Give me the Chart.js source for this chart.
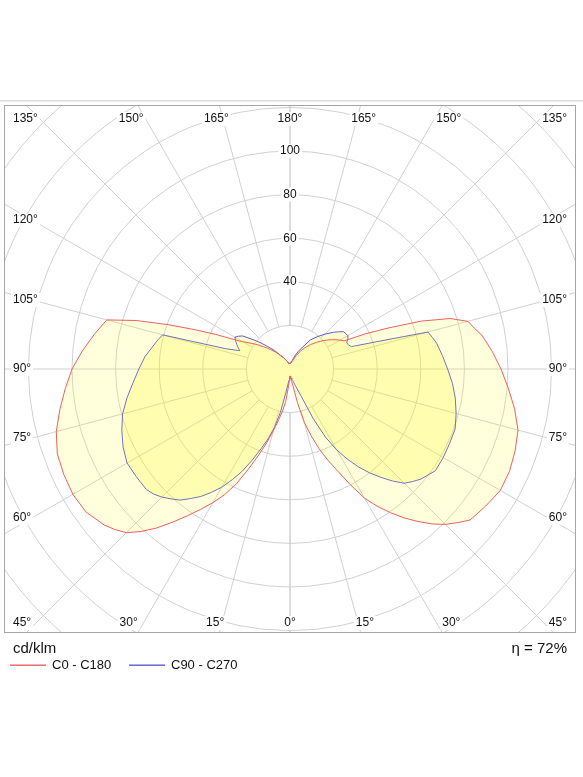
<!DOCTYPE html>
<html>
<head>
<meta charset="utf-8">
<script src="https://cdn.jsdelivr.net/npm/chart.js@4.4.0/dist/chart.umd.min.js"></script>
<style>
  html, body { margin: 0; padding: 0; background: #fff; }
  canvas { display: block; }
</style>
</head>
<body>
<canvas id="polar" width="583" height="777"></canvas>
<script>
// gamma angles (0 = straight down, 180 = straight up), degrees
var GAMMA = [0, 2.5, 5, 7.5, 10, 12.5, 15, 17.5, 20, 22.5, 25, 27.5, 30, 32.5, 35, 37.5, 40, 42.5, 45, 47.5, 50,
             55, 60, 65, 70, 75, 80, 85, 90, 95, 100,
             102.5, 105, 107.5, 110, 112.5, 115, 117.5, 120, 122.5, 125, 127.5, 130, 132.5, 135,
             140, 145, 150, 155, 160, 165, 170, 175, 180];

// cd/klm, C0 (right) and C180 (left) halves of the red curve
var C0   = [3.2, 3.7, 4.4, 5.8, 7.8, 15.8, 25.3, 32, 38.8, 45.2, 51.5, 59.7, 68.5, 74.7, 80.5, 86.1, 91.3, 96.4, 100.8, 104.3, 107.8,
            109.6, 111.4, 111.1, 109.9, 108.3, 104.6, 100.5, 96.8, 93.1, 89.4,
            86.6, 84.5, 77, 64.3, 49.6, 38.2, 28, 26.5, 25, 23.4, 21.9, 20.3, 18.8, 17.4,
            14.6, 11.9, 9.4, 6.9, 4.4, 3.5, 3, 2.7, 2.5];
var C180 = [3.2, 5, 8.2, 15, 19.5, 23.8, 29, 35.5, 42, 49.5, 58, 65, 70.8, 76.4, 82.2, 88.6, 95.2, 101.1, 106.2, 109, 111.3,
            114.3, 115, 114.5, 113.6, 111, 107.2, 103.5, 100, 95.6, 91.2,
            89, 87, 74, 59.5, 47, 37.5, 29.5, 25, 22.3, 20, 18, 15.8, 14.2, 12.6,
            10, 7.6, 6, 4.7, 3.8, 3, 2.7, 2.6, 2.5];

// C90 (right) and C270 (left) halves of the blue curve
var C90  = [3.2, 3.4, 3.8, 4.2, 4.8, 5.4, 6.4, 7.8, 9.8, 13.8, 24.9, 35.2, 42.9, 49.1, 54.9, 60.1, 64.9, 69.7, 74.1, 76.4, 78.5,
            81.4, 81.2, 80.8, 80.6, 78.9, 77, 74.8, 72.3, 70.2, 68.3,
            66.9, 65.5, 41.5, 30, 29, 28.7, 30, 30.6, 30.3, 29.9, 28, 26.2, 24.3, 22.6,
            19.3, 16.2, 11.7, 8.8, 6.3, 4.2, 3, 2.6, 2.5];
var C270 = [3.2, 3.8, 5.2, 7, 11.2, 20.5, 28, 33.7, 39, 45.2, 51.6, 57.2, 62.6, 67.1, 71.4, 74.9, 78.5, 80.8, 83.1, 84.9, 86,
            86.1, 86.3, 84.5, 82.1, 79.5, 75.9, 72.3, 69.3, 66.7, 63.4,
            62, 60.5, 31, 24.5, 25.8, 27, 28.2, 29.2, 28, 26.4, 22.7, 20, 17.2, 14.7,
            11.1, 7.7, 6, 4.7, 3.8, 3, 2.7, 2.6, 2.5];

var RINGS       = [20, 40, 60, 80, 100, 120, 140, 160, 180, 200];
var RING_LABELS = [40, 60, 80, 100];
var ANGLE_TICKS = [0, 15, 30, 45, 60, 75, 90, 105, 120, 135, 150, 165, 180];
var UNIT_LABEL  = 'cd/klm';
var EFF_LABEL   = '\u03b7 = 72%';
var SERIES_NAMES = ['C0 - C180', 'C90 - C270'];

var FONT = '"Liberation Sans", Arial, sans-serif';
var RED  = '#ec5f5f';
var BLUE = '#5b5bd8';

// closed loop: right half 0 -> 180, then left half 180 -> 0
function loop(right, left) {
  var pts = [];
  GAMMA.forEach(function(g, i) {
    var t = g * Math.PI / 180;
    pts.push({ x: right[i] * Math.sin(t), y: -right[i] * Math.cos(t) });
  });
  for (var i = GAMMA.length - 1; i >= 0; i--) {
    var t = GAMMA[i] * Math.PI / 180;
    pts.push({ x: -left[i] * Math.sin(t), y: -left[i] * Math.cos(t) });
  }
  return pts;
}

function boxText(ctx, text, x, y, align) {
  var w = ctx.measureText(text).width;
  var lx = align === 'left' ? x : (align === 'right' ? x - w : x - w / 2);
  ctx.fillStyle = '#fff';
  ctx.fillRect(lx - 2, y - 7, w + 4, 14);
  ctx.fillStyle = '#111';
  ctx.textAlign = align;
  ctx.fillText(text, x, y);
}

var polarGrid = {
  id: 'polarGrid',
  beforeDatasetsDraw: function(chart) {
    var ctx = chart.ctx, a = chart.chartArea, sx = chart.scales.x, sy = chart.scales.y;
    var cx = sx.getPixelForValue(0), cy = sy.getPixelForValue(0);
    var k = sx.getPixelForValue(1) - cx;
    ctx.save();
    ctx.beginPath();
    ctx.rect(a.left, a.top, a.right - a.left, a.bottom - a.top);
    ctx.clip();
    ctx.strokeStyle = '#d0d0d0';
    ctx.lineWidth = 1;
    RINGS.forEach(function(r) {
      ctx.beginPath();
      ctx.arc(cx, cy, r * k, 0, Math.PI * 2);
      ctx.stroke();
    });
    ANGLE_TICKS.forEach(function(g) {
      [-1, 1].forEach(function(side) {
        var t = g * Math.PI / 180;
        var r0 = RINGS[0] * k, r1 = RINGS[RINGS.length - 1] * k;
        ctx.beginPath();
        ctx.moveTo(cx + side * Math.sin(t) * r0, cy + Math.cos(t) * r0);
        ctx.lineTo(cx + side * Math.sin(t) * r1, cy + Math.cos(t) * r1);
        ctx.stroke();
      });
    });
    ctx.restore();
  },
  afterDatasetsDraw: function(chart) {
    var ctx = chart.ctx, a = chart.chartArea, sx = chart.scales.x, sy = chart.scales.y;
    var cx = sx.getPixelForValue(0), cy = sy.getPixelForValue(0);
    var k = sx.getPixelForValue(1) - cx;
    var halfW = (a.right - a.left) / 2;
    ctx.save();
    ctx.font = '12px ' + FONT;
    ctx.textBaseline = 'middle';

    // radial values along the 180 line
    RING_LABELS.forEach(function(v) {
      boxText(ctx, String(v), cx, cy - v * k, 'center');
    });

    // angle labels around the frame
    ANGLE_TICKS.forEach(function(g) {
      [-1, 1].forEach(function(side) {
        if ((g === 0 || g === 180) && side < 0) return;
        var t = g * Math.PI / 180;
        var ux = side * Math.sin(t), uy = Math.cos(t);
        var x, y, align = 'center';
        var edgeX = side < 0 ? a.left + 9 : a.right - 9;
        var edgeAlign = side < 0 ? 'left' : 'right';
        if (g <= 45 || g >= 135) {
          y = g <= 45 ? a.bottom - 10 : a.top + 14;
          if (g === 45 || g === 135) { x = edgeX; align = edgeAlign; }
          else x = cx + ux / Math.abs(uy) * Math.abs(y - cy) * 1.1;
        } else {
          x = edgeX; align = edgeAlign;
          y = cy + uy / Math.abs(ux) * (halfW - 28);
        }
        boxText(ctx, g + '\u00b0', x, y, align);
      });
    });

    // frame
    ctx.strokeStyle = '#a5a5a5';
    ctx.lineWidth = 1;
    ctx.strokeRect(a.left + 0.5, a.top + 0.5, a.right - a.left - 1, a.bottom - a.top - 1);
    ctx.restore();
  },
  afterDraw: function(chart) {
    var ctx = chart.ctx, a = chart.chartArea;
    ctx.save();
    // thin rule above the diagram
    ctx.fillStyle = '#dcdcdc';
    ctx.fillRect(0, a.top - 5, chart.width, 1.5);

    ctx.textBaseline = 'middle';
    ctx.fillStyle = '#111';
    ctx.font = '15px ' + FONT;
    ctx.textAlign = 'left';
    ctx.fillText(UNIT_LABEL, a.left + 9, a.bottom + 16);
    ctx.textAlign = 'right';
    ctx.fillText(EFF_LABEL, a.right - 9, a.bottom + 16);

    // legend
    ctx.font = '13px ' + FONT;
    ctx.textAlign = 'left';
    var ly = a.bottom + 32;
    var swatches = [RED, BLUE];
    var starts = [10, 129];
    swatches.forEach(function(col, i) {
      ctx.fillStyle = col;
      ctx.fillRect(starts[i], ly - 0.5, 36, 1.4);
      ctx.fillStyle = '#111';
      ctx.fillText(SERIES_NAMES[i], starts[i] + 42, ly);
    });
    ctx.restore();
  }
};

new Chart(document.getElementById('polar').getContext('2d'), {
  type: 'scatter',
  data: {
    datasets: [
      { label: SERIES_NAMES[0], data: loop(C0, C180), showLine: true, tension: 0,
        borderColor: RED, borderWidth: 1, pointRadius: 0,
        backgroundColor: 'rgba(255,255,0,0.14)', fill: 'shape' },
      { label: SERIES_NAMES[1], data: loop(C90, C270), showLine: true, tension: 0,
        borderColor: BLUE, borderWidth: 1, pointRadius: 0,
        backgroundColor: 'rgba(255,250,0,0.2)', fill: 'shape' }
    ]
  },
  options: {
    responsive: false,
    animation: false,
    layout: { padding: { left: 4, right: 7, top: 105, bottom: 144 } },
    plugins: { legend: { display: false }, tooltip: { enabled: false } },
    scales: {
      x: { type: 'linear', min: -131.2, max: 131.2, display: false },
      y: { type: 'linear', min: -121.1, max: 121.1, display: false }
    }
  },
  plugins: [polarGrid]
});
</script>
</body>
</html>
